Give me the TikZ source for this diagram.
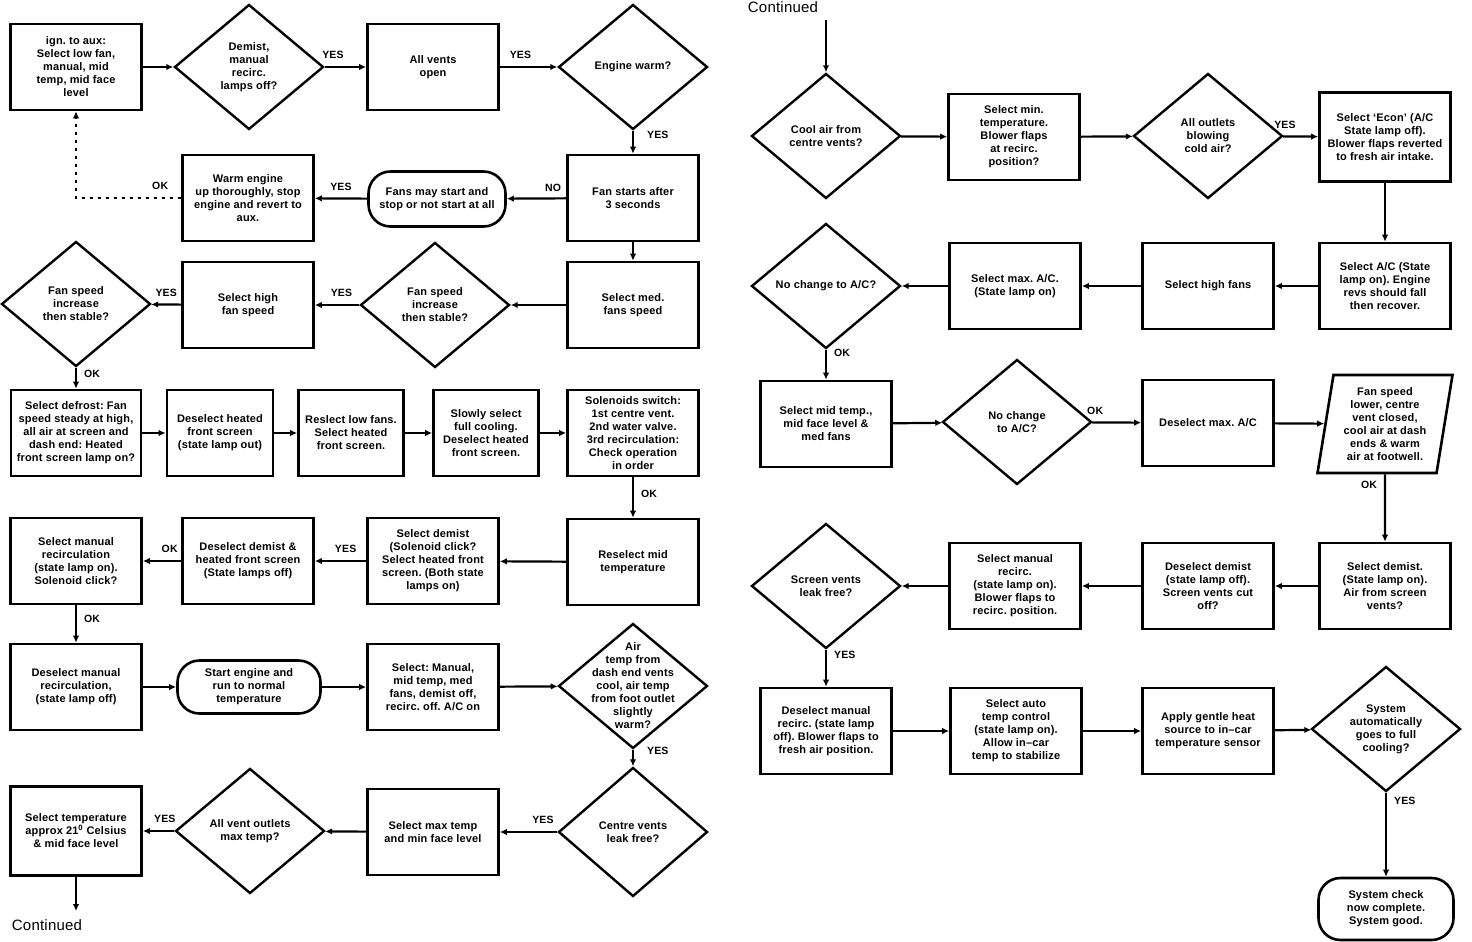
\documentclass[tikz,border=0pt]{standalone}
\usepackage{fontspec}
\setmainfont{Liberation Sans}[LetterSpace=1.5]
\frenchspacing
\usetikzlibrary{shapes.geometric,arrows.meta}
\tikzset{
  every node/.style={font=\fontsize{11}{13}\selectfont\bfseries},
  stepbox/.style={draw, line width=2.6pt, rectangle, minimum width=131pt, minimum height=86pt, align=center, inner sep=2pt},
  query/.style={draw, line width=2.4pt, diamond, minimum width=149pt, minimum height=125pt, align=center, inner sep=0pt},
  termbox/.style={draw, line width=2.6pt, rectangle, rounded corners=22pt, minimum width=138pt, minimum height=55pt, align=center, inner sep=2pt},
  slantbox/.style={draw, line width=2.6pt, trapezium, trapezium left angle=78, trapezium right angle=102, trapezium stretches body, minimum width=135pt, minimum height=98pt, align=center, inner sep=1pt},
  flow/.style={line width=2.2pt, -{Latex[length=7pt,width=6.5pt]}},
  lbl/.style={font=\fontsize{10.5}{12}\selectfont\bfseries, inner sep=1pt},
  contlbl/.style={font=\fontsize{15}{17}\selectfont},
}
\begin{document}
\begin{tikzpicture}[x=1pt,y=-1pt]
\useasboundingbox (0,0) rectangle (1472,942);
\node[stepbox] (ign) at (76,67) {ign. to aux:\\Select low fan,\\manual, mid\\temp, mid face\\level};
\node[query] (demist) at (249,67) {Demist,\\manual\\recirc.\\lamps off?};
\node[stepbox] (allvents) at (433,67) {All vents\\open};
\node[query] (warmq) at (633,67) {Engine warm?};
\node[stepbox] (fanstarts) at (633,198) {Fan starts after\\3 seconds};
\node[termbox, minimum width=137pt] (fansmay) at (437,199) {Fans may start and\\stop or not start at all};
\node[stepbox] (warmup) at (248,198) {Warm engine\\up thoroughly, stop\\engine and revert to\\aux.};
\node[stepbox] (medfans) at (633,305) {Select med.\\fans speed};
\node[query] (stablem) at (435,305) {Fan speed\\increase\\then stable?};
\node[stepbox] (highfan) at (248,305) {Select high\\fan speed};
\node[query] (stablel) at (76,304) {Fan speed\\increase\\then stable?};
\node[stepbox, minimum width=130pt] (defrost) at (76,433) {Select defrost: Fan\\speed steady at high,\\all air at screen and\\dash end: Heated\\front screen lamp on?};
\node[stepbox, minimum width=106pt] (deselheat) at (220,433) {Deselect heated\\front screen\\(state lamp out)};
\node[stepbox, minimum width=105pt] (reslect) at (351,433) {Reslect low fans.\\Select heated\\front screen.};
\node[stepbox, minimum width=105pt] (slowly) at (486,433) {Slowly select\\full cooling.\\Deselect heated\\front screen.};
\node[stepbox] (solenoids) at (633,433) {Solenoids switch:\\1st centre vent.\\2nd water valve.\\3rd recirculation:\\Check operation\\in order};
\node[stepbox] (reselmid) at (633,562) {Reselect mid\\temperature};
\node[stepbox] (seldemist) at (433,561) {Select demist\\(Solenoid click?\\Select heated front\\screen. (Both state\\lamps on)};
\node[stepbox] (deseldemist) at (248,561) {Deselect demist \&\\heated front screen\\(State lamps off)};
\node[stepbox] (manrecirc) at (76,561) {Select manual\\recirculation\\(state lamp on).\\Solenoid click?};
\node[stepbox] (deselman) at (76,687) {Deselect manual\\recirculation,\\(state lamp off)};
\node[termbox, minimum width=143pt, minimum height=53pt] (startengine) at (249,687) {Start engine and\\run to normal\\temperature};
\node[stepbox] (selmanual) at (433,687) {Select: Manual,\\mid temp, med\\fans, demist off,\\recirc. off. A/C on};
\node[query, inner sep=-24pt] (airtemp) at (633,686) {Air\\temp from\\dash end vents\\cool, air temp\\from foot outlet\\slightly\\warm?};
\node[query, minimum height=129pt] (centrevents) at (633,832) {Centre vents\\leak free?};
\node[stepbox] (maxtemp) at (433,832) {Select max temp\\and min face level};
\node[query] (allvent) at (250,831) {All vent outlets\\max temp?};
\node[stepbox, minimum height=89pt] (seltemp) at (76,831) {Select temperature\\approx 21\textsuperscript{0} Celsius\\\& mid face level};
\node[contlbl] (contl) at (47,925) {Continued};
\coordinate (contlend) at (76,911);
\draw[flow] (ign) -- (demist);
\draw[flow] (demist) -- node[lbl, above=6pt, pos=0.2] {YES} (allvents);
\draw[flow] (allvents) -- node[lbl, above=6pt, pos=0.36] {YES} (warmq);
\draw[flow] (warmq) -- node[lbl, right=12pt, pos=0.2] {YES} (fanstarts);
\draw[flow] (fanstarts) -- node[lbl, above=5pt, pos=0.22] {NO} (fansmay);
\draw[flow] (fansmay) -- node[lbl, above=6pt, pos=0.5] {YES} (warmup);
\draw[flow, dash pattern=on 3pt off 5pt] (warmup) -| node[lbl, above=6pt, pos=0.1] {OK} (ign);
\draw[flow] (fanstarts) -- (medfans);
\draw[flow] (medfans) -- (stablem);
\draw[flow] (stablem) -- node[lbl, above=6pt, pos=0.4] {YES} (highfan);
\draw[flow] (highfan) -- node[lbl, above=6pt, pos=0.5] {YES} (stablel);
\draw[flow] (stablel) -- node[lbl, right=6pt, pos=0.3] {OK} (defrost);
\draw[flow] (defrost) -- (deselheat);
\draw[flow] (deselheat) -- (reslect);
\draw[flow] (reslect) -- (slowly);
\draw[flow] (slowly) -- (solenoids);
\draw[flow] (solenoids) -- node[lbl, right=6pt, pos=0.4] {OK} (reselmid);
\draw[flow] (reselmid) -- (seldemist);
\draw[flow] (seldemist) -- node[lbl, above=6pt, pos=0.4] {YES} (deseldemist);
\draw[flow] (deseldemist) -- node[lbl, above=6pt, pos=0.3] {OK} (manrecirc);
\draw[flow] (manrecirc) -- node[lbl, right=6pt, pos=0.35] {OK} (deselman);
\draw[flow] (deselman) -- (startengine);
\draw[flow] (startengine) -- (selmanual);
\draw[flow] (selmanual) -- (airtemp);
\draw[flow] (airtemp) -- node[lbl, right=12pt, pos=0.1] {YES} (centrevents);
\draw[flow] (centrevents) -- node[lbl, above=6pt, pos=0.25] {YES} (maxtemp);
\draw[flow] (maxtemp) -- (allvent);
\draw[flow] (allvent) -- node[lbl, above=6pt, pos=0.3] {YES} (seltemp);
\draw[flow] (seltemp) -- (contlend);
\node[contlbl] (contr) at (783,7) {Continued};
\coordinate (contrstart) at (826,20);
\node[query] (coolair) at (826,136) {Cool air from\\centre vents?};
\node[stepbox] (selmin) at (1014,137) {Select min.\\temperature.\\Blower flaps\\at recirc.\\position?};
\node[query] (alloutlets) at (1208,136) {All outlets\\blowing\\cold air?};
\node[stepbox, minimum height=89pt] (econ) at (1385,137) {Select `Econ' (A/C\\State lamp off).\\Blower flaps reverted\\to fresh air intake.};
\node[stepbox] (selac) at (1385,286) {Select A/C (State\\lamp on). Engine\\revs should fall\\then recover.};
\node[stepbox] (highfans) at (1208,286) {Select high fans};
\node[stepbox] (maxac) at (1015,286) {Select max. A/C.\\(State lamp on)};
\node[query] (nochange) at (826,286) {No change to A/C?};
\node[stepbox] (midtemp) at (826,424) {Select mid temp.,\\mid face level \&\\med fans};
\node[query] (nochangeb) at (1017,422) {No change\\to A/C?};
\node[stepbox] (deselmax) at (1208,423) {Deselect max. A/C};
\node[slantbox] (fanlower) at (1385,424) {Fan speed\\lower, centre\\vent closed,\\cool air at dash\\ends \& warm\\air at footwell.};
\node[stepbox] (seldemistb) at (1385,586) {Select demist.\\(State lamp on).\\Air from screen\\vents?};
\node[stepbox] (deseldemistb) at (1208,586) {Deselect demist\\(state lamp off).\\Screen vents cut\\off?};
\node[stepbox] (manrecircb) at (1015,586) {Select manual\\recirc.\\(state lamp on).\\Blower flaps to\\recirc. position.};
\node[query] (screenvents) at (826,586) {Screen vents\\leak free?};
\node[stepbox] (deselmanb) at (826,731) {Deselect manual\\recirc. (state lamp\\off). Blower flaps to\\fresh air position.};
\node[stepbox] (autotemp) at (1016,731) {Select auto\\temp control\\(state lamp on).\\Allow in--car\\temp to stabilize};
\node[stepbox] (gentle) at (1208,731) {Apply gentle heat\\source to in--car\\temperature sensor};
\node[query] (fullcool) at (1386,729) {System\\automatically\\goes to full\\cooling?};
\node[termbox, minimum width=135pt, minimum height=62pt] (syscheck) at (1386,909) {System check\\now complete.\\System good.};
\draw[flow] (contrstart) -- (coolair);
\draw[flow] (coolair) -- (selmin);
\draw[flow] (selmin) -- (alloutlets);
\draw[flow] (alloutlets) -- node[lbl, above=6pt, pos=0.05] {YES} (econ);
\draw[flow] (econ) -- (selac);
\draw[flow] (selac) -- (highfans);
\draw[flow] (highfans) -- (maxac);
\draw[flow] (maxac) -- (nochange);
\draw[flow] (nochange) -- node[lbl, right=6pt, pos=0.1] {OK} (midtemp);
\draw[flow] (midtemp) -- (nochangeb);
\draw[flow] (nochangeb) -- node[lbl, above=6pt, pos=0.06] {OK} (deselmax);
\draw[flow] (deselmax) -- (fanlower);
\draw[flow] (fanlower) -- node[lbl, left=6pt, pos=0.15] {OK} (seldemistb);
\draw[flow] (seldemistb) -- (deseldemistb);
\draw[flow] (deseldemistb) -- (manrecircb);
\draw[flow] (manrecircb) -- (screenvents);
\draw[flow] (screenvents) -- node[lbl, right=6pt, pos=0.15] {YES} (deselmanb);
\draw[flow] (deselmanb) -- (autotemp);
\draw[flow] (autotemp) -- (gentle);
\draw[flow] (gentle) -- (fullcool);
\draw[flow] (fullcool) -- node[lbl, right=6pt, pos=0.1] {YES} (syscheck);
\end{tikzpicture}
\end{document}
